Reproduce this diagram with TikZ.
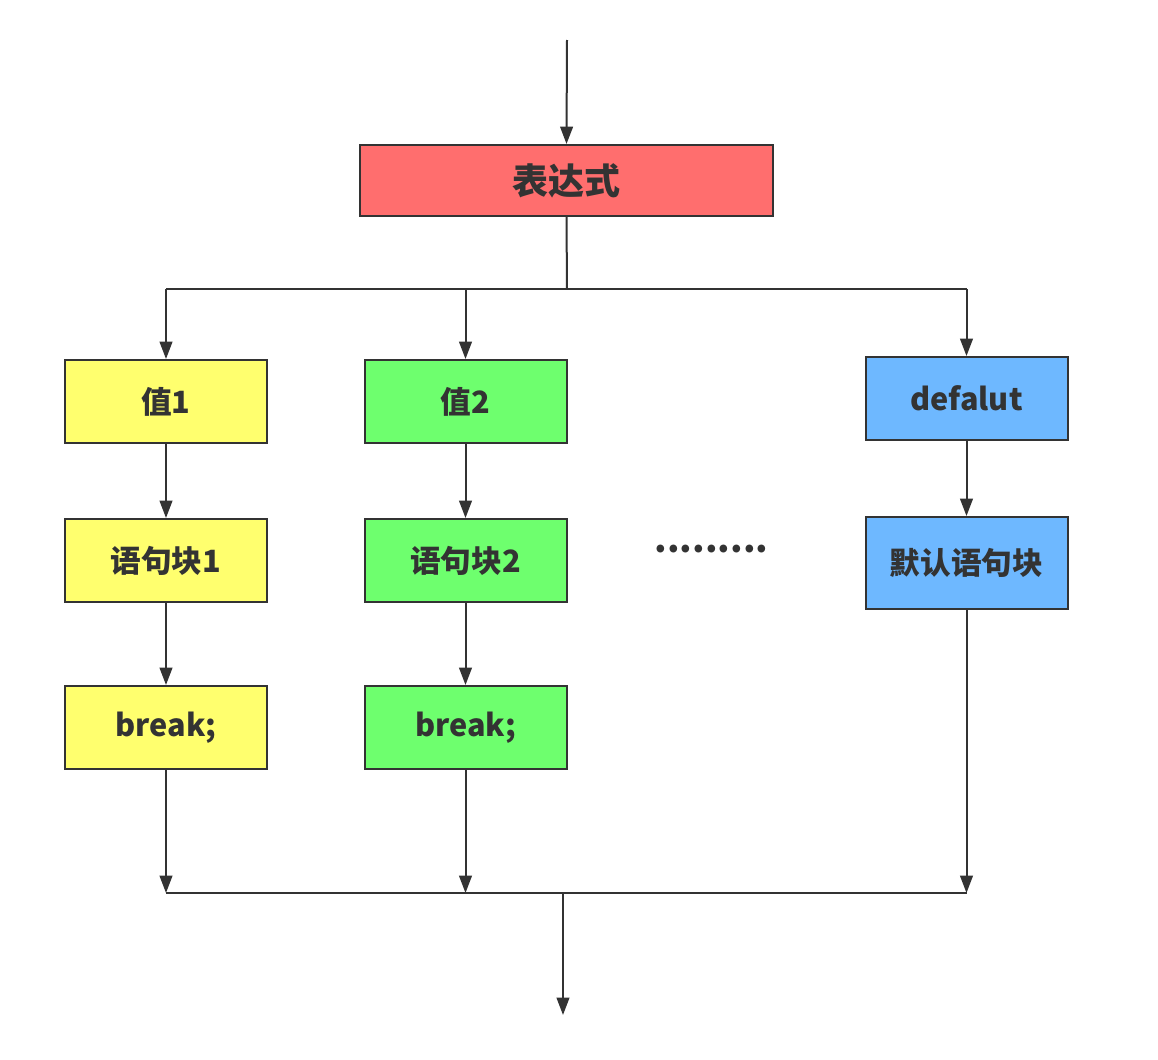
\documentclass[tikz,border=0pt]{standalone}
\usepackage{fontspec}
\setmainfont{Noto Sans CJK SC}
\usetikzlibrary{arrows.meta}
\definecolor{ln}{HTML}{333333}
\definecolor{cred}{HTML}{FF6E6E}
\definecolor{cyel}{HTML}{FFFF6E}
\definecolor{cgrn}{HTML}{6EFF6E}
\definecolor{cblu}{HTML}{6EB8FF}
\begin{document}
\begin{tikzpicture}[x=0.75pt,y=-0.75pt,
  boxx/.style={draw=ln,line width=1.5pt,minimum width=202*0.75pt,minimum height=83*0.75pt,inner sep=0pt,font=\bfseries\fontsize{23}{26}\selectfont,text=ln},
  conn/.style={draw=ln,line width=1.5pt},
  arr/.style={conn,-{Triangle[length=13pt,width=9.5pt]}}]
\useasboundingbox (0,0) rectangle (1158,1060);
\coordinate (top) at (567,40);
\node[boxx,fill=cred,minimum width=413*0.75pt,minimum height=71*0.75pt,font=\bfseries\fontsize{27}{30}\selectfont] (expr) at (566.5,180.5) {表达式};
\node[boxx,fill=cyel] (v1) at (166,401.5) {值1};
\node[boxx,fill=cgrn] (v2) at (465.5,401.5) {值2};
\node[boxx,fill=cblu] (vd) at (966.5,398.5) {defalut};
\node[boxx,fill=cyel] (s1) at (166,560.5) {语句块1};
\node[boxx,fill=cgrn] (s2) at (465.5,560.5) {语句块2};
\node[boxx,fill=cblu,minimum height=92*0.75pt] (sd) at (966.5,563) {默认语句块};
\node[boxx,fill=cyel] (b1) at (166,727.5) {break;};
\node[boxx,fill=cgrn] (b2) at (465.5,727.5) {break;};
\node[font=\bfseries\fontsize{27}{30}\selectfont,text=ln,inner sep=0pt] (dots) at (711.5,549) {.........};
\coordinate (j) at (567,289);
\coordinate (m) at (563,893);
\coordinate (out) at (563,1015);
\draw[arr] (top) -- (expr.north);
\draw[conn] (expr.south) -- (j);
\draw[conn] (v1.north |- j) -- (vd.north |- j);
\draw[arr] (v1.north |- j) -- (v1.north);
\draw[arr] (v2.north |- j) -- (v2.north);
\draw[arr] (vd.north |- j) -- (vd.north);
\draw[arr] (v1) -- (s1);
\draw[arr] (v2) -- (s2);
\draw[arr] (vd) -- (sd);
\draw[arr] (s1) -- (b1);
\draw[arr] (s2) -- (b2);
\draw[arr] (b1.south) -- (b1.south |- m);
\draw[arr] (b2.south) -- (b2.south |- m);
\draw[arr] (sd.south) -- (sd.south |- m);
\draw[conn] (b1.south |- m) -- (sd.south |- m);
\draw[arr] (m) -- (out);
\end{tikzpicture}
\end{document}
